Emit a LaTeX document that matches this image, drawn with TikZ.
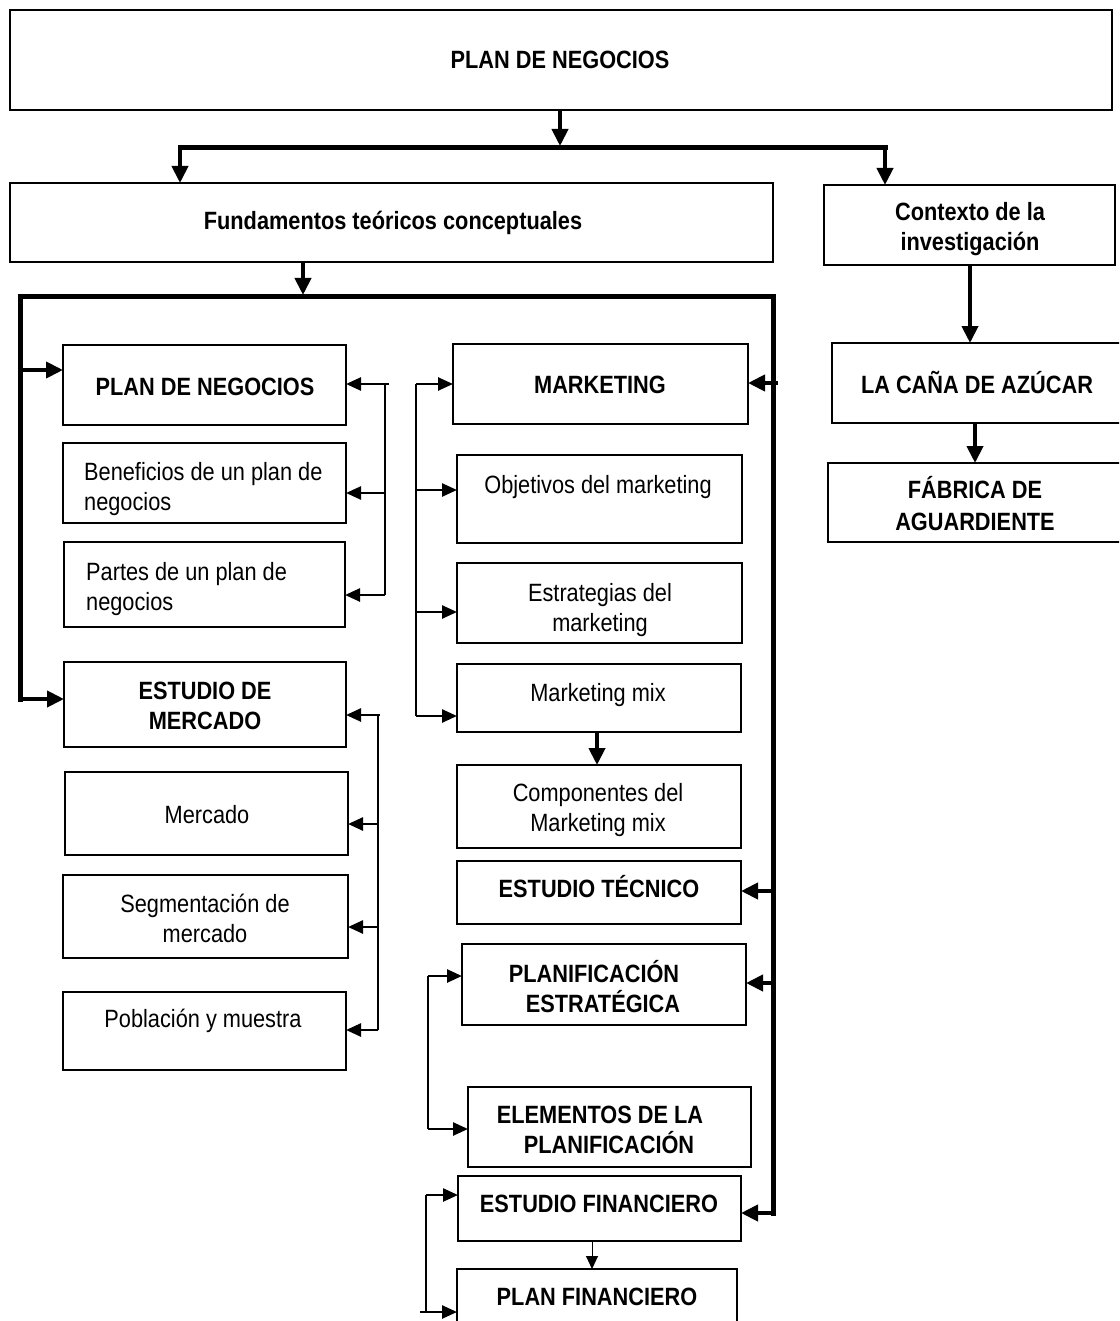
\documentclass[tikz,border=0pt]{standalone}
\usepackage{fontspec}
\setmainfont{Liberation Sans}[FakeStretch=0.87]
\usetikzlibrary{arrows.meta}
\newcommand\mybox[5]{\node[bx,minimum width={(#4)-(#2)},minimum height={(#5)-(#3)}] (#1) at ({((#2)+(#4))/2},{((#3)+(#5))/2}) {};}
\begin{document}
\begin{tikzpicture}[x=1pt,y=-1pt,
  bx/.style={draw,line width=2pt,inner sep=0pt,outer sep=0pt,rectangle},
  txt/.style={anchor=base,align=center,inner sep=0pt,font=\fontsize{25}{30}\selectfont},
  txtb/.style={txt,font=\fontsize{25}{30}\selectfont\bfseries},
  txtl/.style={txt,anchor=base west,align=left},
  bar/.style={line width=5pt,line cap=rect,line join=miter},
  thk/.style={line width=4pt,-{Triangle[length=17pt,width=16pt]}},
  thn/.style={line width=2.5pt,-{Triangle[length=15pt,width=13pt]}},
  thnline/.style={line width=2.5pt},
  hair/.style={line width=1pt,-{Triangle[length=13pt,width=12pt]}}]
\useasboundingbox (0,0) rectangle (1119,1321);
\clip (0,0) rectangle (1119,1321);
\fill[white] (0,0) rectangle (1119,1321);

% boxes
\mybox{top}{10}{10}{1112}{110}
\mybox{fund}{10}{183}{773}{262}
\mybox{ctx}{824}{185}{1115}{265}
\mybox{pdn}{63}{345}{346}{425}
\mybox{ben}{63}{443}{346}{523}
\mybox{par}{64}{542}{345}{627}
\mybox{edm}{64}{662}{346}{747}
\mybox{mer}{65}{772}{348}{855}
\mybox{seg}{63}{875}{348}{958}
\mybox{pob}{63}{992}{346}{1070}
\mybox{mkt}{453}{344}{748}{424}
\mybox{obj}{457}{455}{742}{543}
\mybox{est}{457}{563}{742}{643}
\mybox{mix}{457}{664}{741}{732}
\mybox{com}{457}{765}{741}{848}
\mybox{tec}{457}{861}{741}{924}
\mybox{pla}{462}{944}{746}{1025}
\mybox{ele}{468}{1087}{751}{1167}
\mybox{fin}{458}{1176}{741}{1241}
\mybox{pfi}{457}{1269}{737}{1340}
\mybox{cana}{832}{343}{1130}{423}
\mybox{fab}{828}{463}{1130}{542}

% texts (multi-line nodes: base = last line)
\node[txtb] (topT) at (560,69) {PLAN DE NEGOCIOS};
\node[txtb] (fundT) at (393,230) {Fundamentos teóricos conceptuales};
\node[txtb] (ctxT) at (970,251) {Contexto de la\\investigación};
\node[txtb] (pdnT) at (205,395) {PLAN DE NEGOCIOS};
\node[txtl] (benT) at (84,510) {Beneficios de un plan de\\negocios};
\node[txtl] (parT) at (86,610) {Partes de un plan de\\negocios};
\node[txtb] (edmT) at (205,729) {ESTUDIO DE\\MERCADO};
\node[txt] (merT) at (207,823) {Mercado};
\node[txt] (segT) at (205,942) {Segmentación de\\mercado};
\node[txt] (pobT) at (203,1027) {Población y muestra};
\node[txtb] (mktT) at (600,393) {MARKETING};
\node[txt] (objT) at (598,493) {Objetivos del marketing};
\node[txt] (estT) at (600,631) {Estrategias del\\marketing};
\node[txt] (mixT) at (598,701) {Marketing mix};
\node[txt] (comT) at (598,831) {Componentes del\\Marketing mix};
\node[txtb] (tecT) at (599,897) {ESTUDIO TÉCNICO};
\node[txtb] (plaT) at (594,1012) {PLANIFICACIÓN\\\hspace*{18pt}ESTRATÉGICA};
\node[txtb] (eleT) at (600,1153) {ELEMENTOS DE LA\\\hspace*{18pt}PLANIFICACIÓN};
\node[txtb] (finT) at (599,1212) {ESTUDIO FINANCIERO};
\node[txtb] (pfiT) at (597,1305) {PLAN FINANCIERO};
\node[txtb] (canaT) at (977,393) {LA CAÑA DE AZÚCAR};
\node[txtb] (fabT) at (975,530) {FÁBRICA DE\\[2pt]AGUARDIENTE};

% top connectors
\coordinate (b1M) at (560,146);
\coordinate (b1L) at (180,148);
\coordinate (b1R) at (885,148);
\draw[thk] (top.south -| b1M) -- (b1M);
\draw[bar] (b1L) -- (b1R);
\draw[thk] (b1L) -- (fund.north -| b1L);
\draw[thk] (b1R) -- (ctx.north -| b1R);

\coordinate (b2M) at (303,295);
\coordinate (b2L) at (20,297);
\coordinate (b2R) at (773,297);
\coordinate (lvb) at (20,699);
\coordinate (rvb) at (773,1213);
\draw[thk] (fund.south -| b2M) -- (b2M);
\draw[bar] (lvb) -- (b2L) -- (b2R) -- (rvb);

\draw[thk] (lvb |- 0,370) -- (pdn.west |- 0,370);
\draw[thk] (lvb) -- (edm.west |- lvb);

\draw[thk] (778,383) -- (mkt.east |- 0,383);
\draw[thk] (rvb |- 0,891) -- (tec.east |- 0,891);
\draw[thk] (rvb |- 0,983) -- (pla.east |- 0,983);
\draw[thk] (rvb) -- (fin.east |- rvb);

% bracket A
\coordinate (aT) at (385,384);
\coordinate (aB) at (385,595);
\draw[thnline] (aT) -- (aB);
\draw[thn] (389,384) -- (pdn.east |- aT);
\draw[thn] (aT |- 0,493) -- (ben.east |- 0,493);
\draw[thn] (aB) -- (par.east |- aB);

% bracket B
\coordinate (bT) at (416,384);
\coordinate (bB) at (416,716);
\draw[thnline] (bT) -- (bB);
\draw[thn] (bT) -- (mkt.west |- bT);
\draw[thn] (bT |- 0,490) -- (obj.west |- 0,490);
\draw[thn] (bT |- 0,612) -- (est.west |- 0,612);
\draw[thn] (bB) -- (mix.west |- bB);

% bracket C
\coordinate (cT) at (378,715);
\coordinate (cB) at (378,1030);
\draw[thnline] (cT) -- (cB);
\draw[thn] (380,715) -- (edm.east |- cT);
\draw[thn] (cT |- 0,824) -- (mer.east |- 0,824);
\draw[thn] (cT |- 0,927) -- (seg.east |- 0,927);
\draw[thn] (cB) -- (pob.east |- cB);

% bracket D
\coordinate (dT) at (428,976);
\coordinate (dB) at (428,1129);
\draw[thnline] (dT) -- (dB);
\draw[thn] (dT) -- (pla.west |- dT);
\draw[thn] (dB) -- (ele.west |- dB);

% bracket E
\coordinate (eT) at (426,1195);
\coordinate (eB) at (426,1312);
\draw[thnline] (eT) -- (eB);
\draw[thn] (eT) -- (fin.west |- eT);
\draw[thn] (420,1312) -- (pfi.west |- eB);

% vertical links
\draw[thk] (mix.south -| 597,0) -- (com.north -| 597,0);
\draw[hair] (fin.south -| 592,0) -- (pfi.north -| 592,0);
\draw[thk] (ctx.south -| 970,0) -- (cana.north -| 970,0);
\draw[thk] (cana.south -| 975,0) -- (fab.north -| 975,0);
\end{tikzpicture}
\end{document}
